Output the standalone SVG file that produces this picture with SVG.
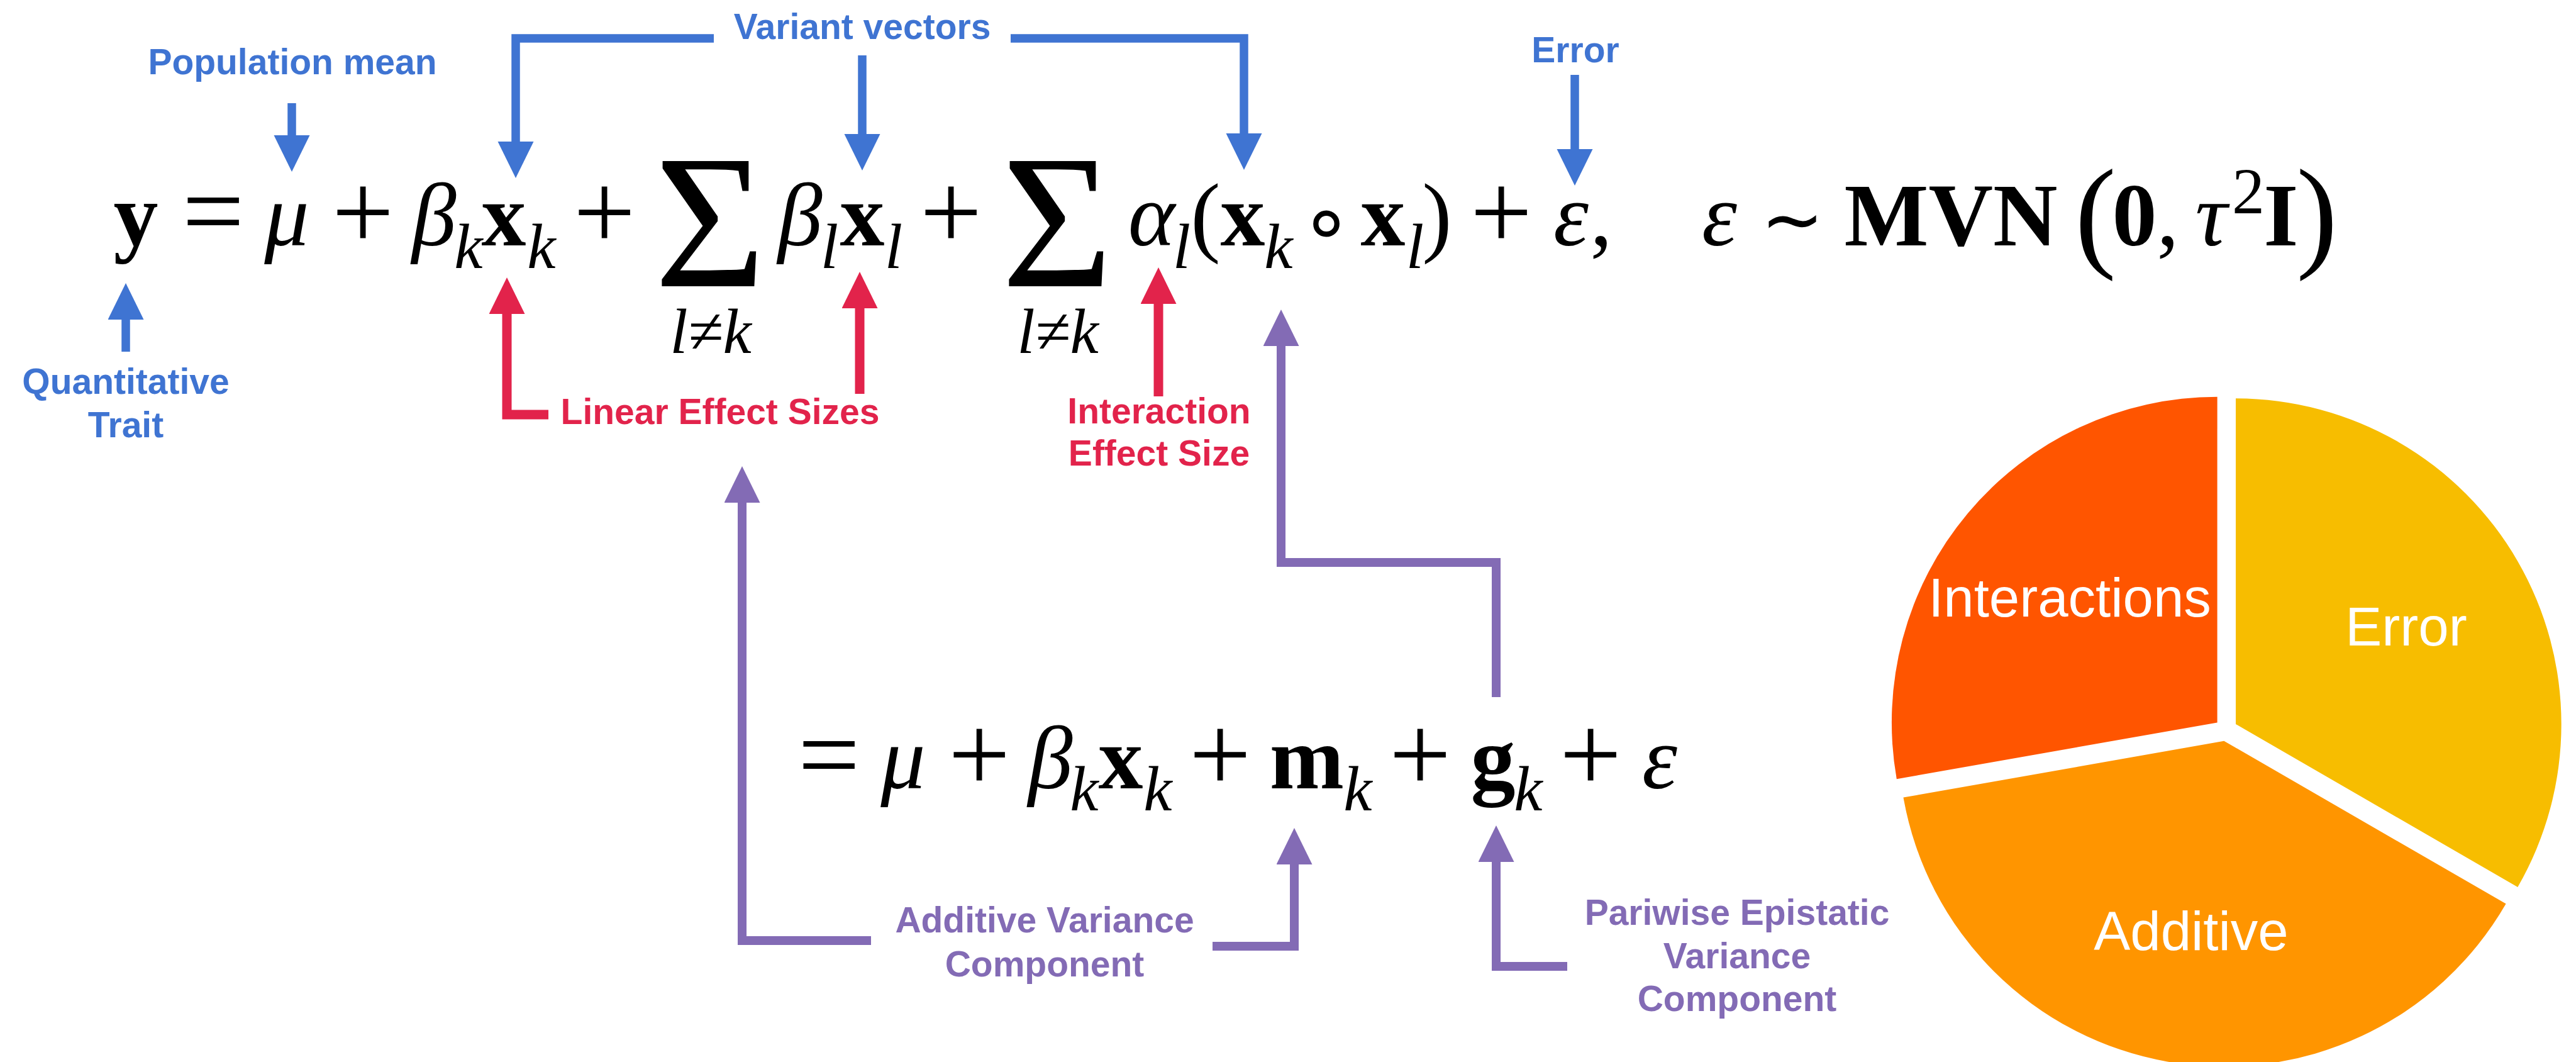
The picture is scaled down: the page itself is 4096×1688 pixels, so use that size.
<svg xmlns="http://www.w3.org/2000/svg" width="4096" height="1688" viewBox="0 0 4096 1688">
<style>
.lab{font-family:"Liberation Sans",Arial,sans-serif;font-weight:bold;font-size:57px;text-anchor:middle}
.blue{fill:#3F74D2}.red{fill:#E2234B}.pur{fill:#836BB5}
.m{font-family:"Liberation Serif","Times New Roman",serif;font-size:142px;text-anchor:middle;fill:#000}
.b{font-weight:bold}.i{font-style:italic}
.s{font-size:102px}
.op{font-size:175px}
.sym{font-family:"DejaVu Sans",sans-serif}
.pie{font-family:"Liberation Sans",Arial,sans-serif;font-size:87px;fill:#fff;text-anchor:middle}
.cb{fill:none;stroke:#3F74D2;stroke-width:13.5}
.cr{fill:none;stroke:#E2234B;stroke-width:15}
.cp{fill:none;stroke:#836BB5;stroke-width:14}
</style>
<defs>
<marker id="hb" markerUnits="userSpaceOnUse" markerWidth="60" markerHeight="58" refX="1" refY="28.5" orient="auto"><path d="M0,0 L58,28.5 L0,57 Z" fill="#3F74D2"/></marker>
<marker id="hr" markerUnits="userSpaceOnUse" markerWidth="60" markerHeight="58" refX="1" refY="28.5" orient="auto"><path d="M0,0 L58,28.5 L0,57 Z" fill="#E2234B"/></marker>
<marker id="hp" markerUnits="userSpaceOnUse" markerWidth="60" markerHeight="58" refX="1" refY="28.5" orient="auto"><path d="M0,0 L58,28.5 L0,57 Z" fill="#836BB5"/></marker>
</defs>
<rect width="4096" height="1688" fill="#fff"/>

<g id="connectors">
<path class="cb" d="M464,164 V216" marker-end="url(#hb)"/>
<path class="cb" d="M1135,61 H820 V226" marker-end="url(#hb)"/>
<path class="cb" d="M1371,88 V214" marker-end="url(#hb)"/>
<path class="cb" d="M1607,61 H1978 V213" marker-end="url(#hb)"/>
<path class="cb" d="M2504,119 V238" marker-end="url(#hb)"/>
<path class="cb" d="M200,559 V507" marker-end="url(#hb)"/>
<path class="cr" d="M872,659 H806 V498" marker-end="url(#hr)"/>
<path class="cr" d="M1367,626 V489" marker-end="url(#hr)"/>
<path class="cr" d="M1842,630 V482" marker-end="url(#hr)"/>
<path class="cp" d="M1385,1495 H1180 V798" marker-end="url(#hp)"/>
<path class="cp" d="M1928,1504 H2058 V1373" marker-end="url(#hp)"/>
<path class="cp" d="M2492,1536 H2379 V1369" marker-end="url(#hp)"/>
<path class="cp" d="M2379,1108 V894 H2037 V549" marker-end="url(#hp)"/>
</g>

<g id="equation-main" class="m">
<text x="216" y="390" class="b">y</text>
<text x="339" y="394" class="op">=</text>
<text x="456" y="390" class="i">μ</text>
<text x="577" y="396" class="op">+</text>
<text x="690" y="390" class="i">β</text>
<text x="745" y="426" class="i s">k</text>
<text x="801" y="390" class="b">x</text>
<text x="861" y="426" class="i s">k</text>
<text x="961" y="396" class="op">+</text>
<text x="1129" y="455" style="font-size:304px">Σ</text>
<text x="1130" y="561" class="i s">l≠k</text>
<text x="1272" y="390" class="i">β</text>
<text x="1319" y="426" class="i s">l</text>
<text x="1371" y="390" class="b">x</text>
<text x="1421" y="426" class="i s">l</text>
<text x="1512" y="396" class="op">+</text>
<text x="1681" y="455" style="font-size:304px">Σ</text>
<text x="1682" y="561" class="i s">l≠k</text>
<text x="1831" y="390" class="i">α</text>
<text x="1879" y="426" class="i s">l</text>
<text x="1917" y="390">(</text>
<text x="1976" y="390" class="b">x</text>
<text x="2033" y="426" class="i s">k</text>
<text x="2109" y="398" class="sym" style="font-size:135px">∘</text>
<text x="2199" y="390" class="b">x</text>
<text x="2250" y="426" class="i s">l</text>
<text x="2285" y="390">)</text>
<text x="2387" y="396" class="op">+</text>
<text x="2498" y="390" class="i">ε</text>
<text x="2546" y="390">,</text>
<text x="2734" y="390" class="i">ε</text>
<text x="2850" y="390" class="sym" style="font-size:120px">∼</text>
<text x="3102" y="390" class="b">MVN</text>
<text x="3332" y="405" style="font-size:197px">(</text>
<text x="3394" y="390" class="b">0</text>
<text x="3447" y="390">,</text>
<text x="3516" y="390" class="i">τ</text>
<text x="3575" y="339" style="font-size:104px">2</text>
<text x="3627" y="390" class="b">I</text>
<text x="3684" y="405" style="font-size:197px">)</text>
</g>

<g id="equation-decomposed" class="m">
<text x="1318" y="1258" class="op">=</text>
<text x="1436" y="1253" class="i">μ</text>
<text x="1557" y="1258" class="op">+</text>
<text x="1670" y="1253" class="i">β</text>
<text x="1724" y="1288" class="i s">k</text>
<text x="1782" y="1253" class="b">x</text>
<text x="1841" y="1288" class="i s">k</text>
<text x="1940" y="1258" class="op">+</text>
<text x="2078" y="1253" class="b">m</text>
<text x="2159" y="1288" class="i s">k</text>
<text x="2258" y="1258" class="op">+</text>
<text x="2374" y="1253" class="b">g</text>
<text x="2430" y="1288" class="i s">k</text>
<text x="2529" y="1258" class="op">+</text>
<text x="2639" y="1253" class="i">ε</text>
</g>

<g id="label-population-mean"><text class="lab blue" x="465" y="118">Population mean</text></g>
<g id="label-variant-vectors"><text class="lab blue" x="1371" y="62">Variant vectors</text></g>
<g id="label-error"><text class="lab blue" x="2505" y="99">Error</text></g>
<g id="label-quantitative-trait"><text class="lab blue" x="200" y="626">Quantitative</text><text class="lab blue" x="200" y="695">Trait</text></g>
<g id="label-linear-effect-sizes"><text class="lab red" x="1145" y="674">Linear Effect Sizes</text></g>
<g id="label-interaction-effect-size"><text class="lab red" x="1843" y="673">Interaction</text><text class="lab red" x="1843" y="740">Effect Size</text></g>
<g id="label-additive-variance"><text class="lab pur" x="1661" y="1482">Additive Variance</text><text class="lab pur" x="1661" y="1552">Component</text></g>
<g id="label-epistatic-variance"><text class="lab pur" x="2762" y="1470">Pariwise Epistatic</text><text class="lab pur" x="2762" y="1539">Variance</text><text class="lab pur" x="2762" y="1607">Component</text></g>

<g id="pie-chart">
<g id="slice-error"><path d="M3555,1151 L3555,633.3 A517.7,517.7 0 0 1 4003.3,1409.9 Z" fill="#F7BD00"/><text class="pie" x="3826" y="1026">Error</text></g>
<g id="slice-additive"><path d="M3536.3,1177.7 L3984.6,1436.6 A517.7,517.7 0 0 1 3026.5,1267.6 Z" fill="#FF9500"/><text class="pie" x="3484" y="1510">Additive</text></g>
<g id="slice-interactions"><path d="M3525.6,1148.4 L3015.8,1238.3 A517.7,517.7 0 0 1 3525.6,630.7 Z" fill="#FF5500"/><text class="pie" x="3291" y="980">Interactions</text></g>
</g>
</svg>
